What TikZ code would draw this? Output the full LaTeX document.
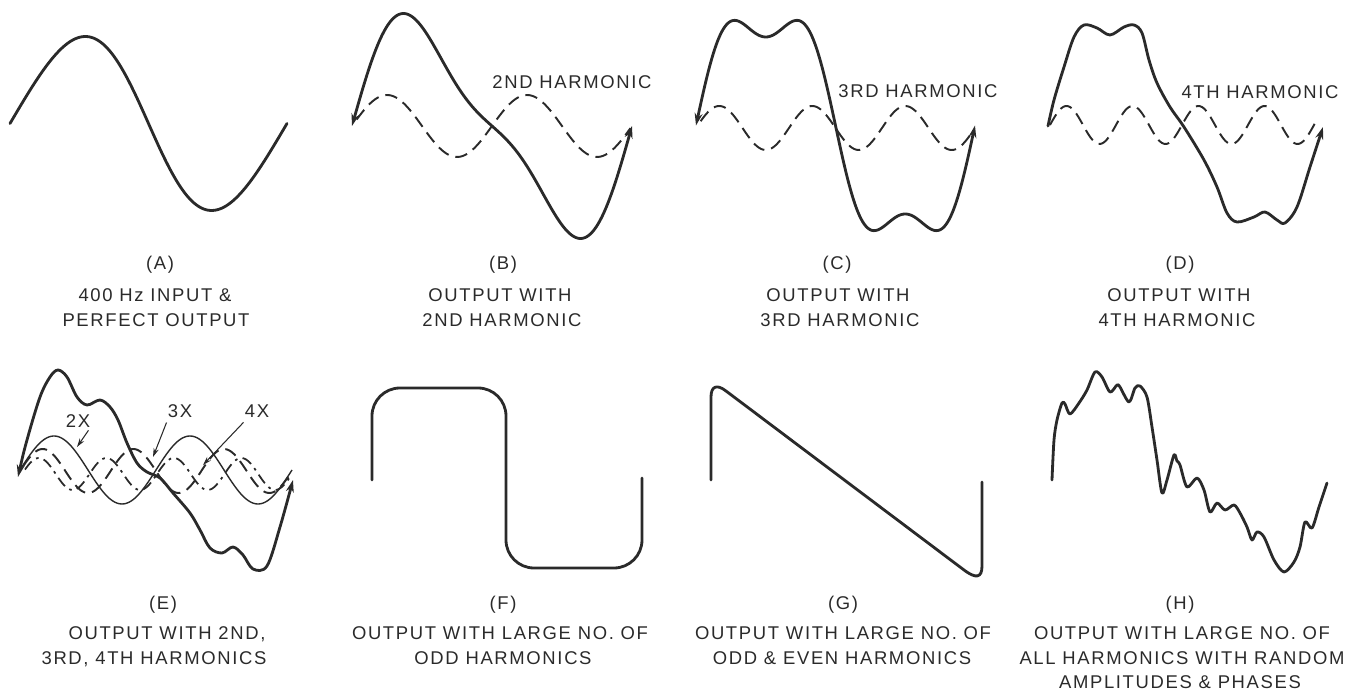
\documentclass[tikz,border=0pt]{standalone}
\usepackage{fontspec}
\setmainfont{Liberation Sans}[LetterSpace=9]
\usetikzlibrary{arrows.meta}
\definecolor{ink}{HTML}{2A2A2A}
\begin{document}
\begin{tikzpicture}[x=0.02cm,y=-0.02cm,
  wave/.style={draw=ink,line width=1.6pt,line cap=round,line join=round},
  thinwave/.style={draw=ink,line width=0.8pt},
  harm/.style={draw=ink,line width=1.1pt,dash pattern=on 7pt off 4pt},
  harmdd/.style={draw=ink,line width=1.0pt,dash pattern=on 6pt off 3pt on 1.5pt off 3pt},
  tips/.style={arrows={Stealth[length=7pt,width=4.5pt]-Stealth[length=7pt,width=4.5pt]}},
  endtip/.style={arrows={-Stealth[length=7pt,width=4.5pt]}},
  lbl/.style={font=\fontsize{10.5}{12}\selectfont,text=ink,inner sep=0pt,anchor=base},
  pointer/.style={draw=ink,line width=0.6pt,-{Stealth[length=5pt,width=3pt]}}]
\useasboundingbox (0,0) rectangle (1357,692);

% ---------- (A) ----------
\draw[wave] plot[domain=0:360,samples=120,variable=\t] ({10+\t/360*277},{123.5-87*sin(\t-8*sin(\t))});
\node[lbl] (la0) at (160,269.5) {(A)};
\node[lbl] (la1) at (155,301.5) {400 Hz INPUT \&};
\node[lbl] (la2) at (156,326.5) {PERFECT OUTPUT};

% ---------- (B) ----------
\draw[harm] plot[domain=6:358,samples=120,variable=\t] ({352+\t/360*280},{126-31*sin(2*\t)});
\draw[wave,tips] plot[domain=0:360,samples=150,variable=\t] ({352+\t/360*280},{126-99*(sin(\t)+0.3*sin(2*\t))});
\node[lbl] (hb) at (572,89) {2ND HARMONIC};
\node[lbl] (lb0) at (503,269.5) {(B)};
\node[lbl] (lb1) at (500,301.5) {OUTPUT WITH};
\node[lbl] (lb2) at (502,326.5) {2ND HARMONIC};

% ---------- (C) ----------
\draw[harm] plot[domain=6:356,samples=150,variable=\t] ({696+\t/360*279},{128-22*sin(3*\t)});
\draw[wave,tips] plot[domain=0:360,samples=180,variable=\t] ({696+\t/360*279},{125.5-118*(sin(\t)+0.25*sin(3*\t))});
\node[lbl] (hc) at (918,98) {3RD HARMONIC};
\node[lbl] (lc0) at (837,269.5) {(C)};
\node[lbl] (lc1) at (838,301.5) {OUTPUT WITH};
\node[lbl] (lc2) at (840,326.5) {3RD HARMONIC};

% ---------- (D) ----------
\draw[harm] plot[domain=0:362,samples=160,variable=\t] ({1050+\t/360*264},{125-19*sin(4*\t)});
\draw[wave,endtip] plot[smooth,tension=0.55] coordinates {
 (1048,126) (1054,100) (1064,67) (1074,37) (1084,25) (1097,28) (1110,35)
 (1124,27) (1134,25) (1142,33) (1149,60) (1157,83) (1170,107) (1184,127)
 (1204,160) (1217,187) (1227,213) (1237,222) (1254,217) (1265,212)
 (1277,220) (1285,223) (1297,207) (1310,167) (1323,127)};
\node[lbl] (hd) at (1260,99) {4TH HARMONIC};
\node[lbl] (ld0) at (1180,269.5) {(D)};
\node[lbl] (ld1) at (1179,301.5) {OUTPUT WITH};
\node[lbl] (ld2) at (1177,326.5) {4TH HARMONIC};

% ---------- (E) ----------
\draw[thinwave] plot[domain=0:360,samples=150,variable=\t] ({20+\t/360*272},{470-34*sin(2*\t)});
\draw[harm] plot[domain=4:356,samples=150,variable=\t] ({20+\t/360*272},{471-22*sin(3*\t)});
\draw[harmdd] plot[domain=4:356,samples=180,variable=\t] ({22+\t/360*270},{474-16*sin(4*\t)});
\draw[wave,tips] plot[smooth,tension=0.55] coordinates {
 (18,477) (27,440) (40,397) (50,377) (58,370) (67,377) (77,397) (87,405)
 (100,400) (110,407) (118,420) (127,443) (137,463) (147,472) (160,478)
 (173,493) (190,513) (200,530) (210,548) (222,553) (233,547) (243,555)
 (253,569) (267,566) (280,527) (293,480)};
\node[lbl] (x2) at (78,428) {2X};
\node[lbl] (x3) at (180,418) {3X};
\node[lbl] (x4) at (257,418) {4X};
\coordinate (t2) at (77,447);
\coordinate (t3) at (153,457);
\coordinate (t4) at (203,465);
\draw[pointer] (x2.south east) ++(-2,2) -- (t2);
\draw[pointer] (x3.south west) ++(-1,4) -- (t3);
\draw[pointer] (x4.south west) ++(-1,4) -- (t4);
\node[lbl] (le0) at (163,609.5) {(E)};
\node[lbl] (le1) at (167,640) {OUTPUT WITH 2ND,};
\node[lbl] (le2) at (154,664) {3RD, 4TH HARMONICS};

% ---------- (F) ----------
\draw[wave,rounded corners=0.56cm] (372,480) -- (372,388) -- (506,388) -- (506,568) -- (642,568) -- (642,478);
\node[lbl] (lf0) at (503,609.5) {(F)};
\node[lbl] (lf1) at (500,640) {OUTPUT WITH LARGE NO. OF};
\node[lbl] (lf2) at (503,664) {ODD HARMONICS};

% ---------- (G) ----------
\draw[wave] (711,480) -- (711,397) .. controls (711,386) and (717,384) .. (726,391)
  -- (964,570) .. controls (976,579) and (982,578) .. (982,566) -- (982,482);
\node[lbl] (lg0) at (843,609.5) {(G)};
\node[lbl] (lg1) at (843,640) {OUTPUT WITH LARGE NO. OF};
\node[lbl] (lg2) at (842,664) {ODD \& EVEN HARMONICS};

% ---------- (H) ----------
\draw[wave] plot[smooth,tension=0.5] coordinates {
 (1052,480) (1054,440) (1057,420) (1062,403) (1065,404) (1070,414)
 (1079,403) (1087,390) (1095,372) (1102,377) (1110,392) (1117,385)
 (1120,387) (1129,402) (1135,388) (1140,386) (1147,397) (1152,427)
 (1157,460) (1162,493) (1167,480) (1174,455) (1177,461) (1180,465)
 (1187,487) (1197,478) (1204,490) (1210,512) (1217,503) (1225,510)
 (1234,505) (1240,513) (1247,527) (1252,540) (1257,532) (1264,537)
 (1274,560) (1284,572) (1294,562) (1300,547) (1305,522) (1312,528)
 (1319,507) (1327,483)};
\node[lbl] (lh0) at (1180,609.5) {(H)};
\node[lbl] (lh1) at (1182,640) {OUTPUT WITH LARGE NO. OF};
\node[lbl] (lh2) at (1182,664) {ALL HARMONICS WITH RANDOM};
\node[lbl] (lh3) at (1180,688) {AMPLITUDES \& PHASES};
\end{tikzpicture}
\end{document}
